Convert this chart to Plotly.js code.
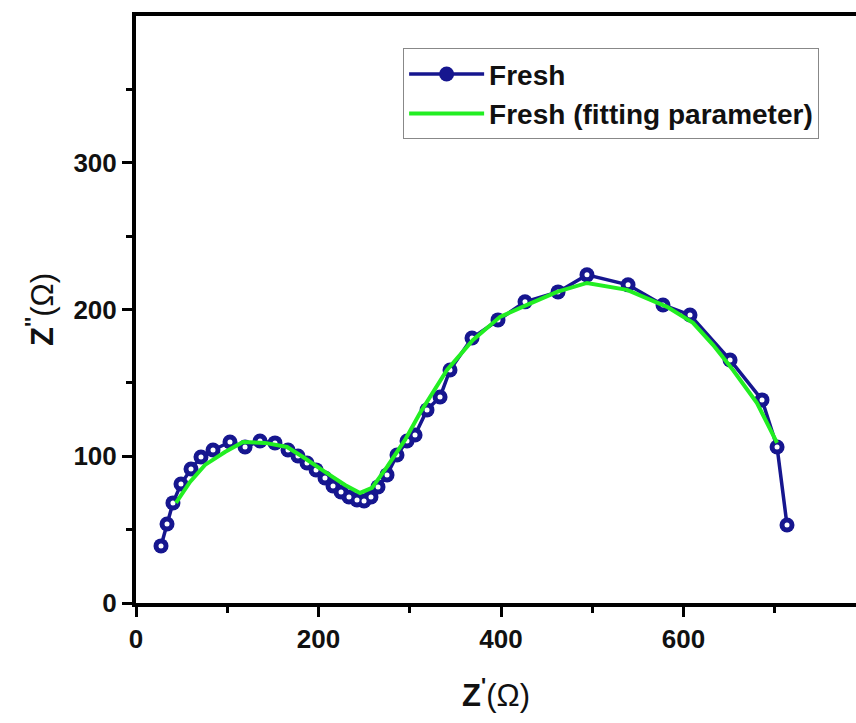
<!DOCTYPE html>
<html>
<head>
<meta charset="utf-8">
<script src="https://cdn.plot.ly/plotly-3.0.1.min.js"></script>
<style>html,body{margin:0;padding:0;background:#fff;}#chart{width:856px;height:723px;}</style>
</head>
<body>
<div id="chart"></div>
<script>
// Measured data: Fresh (Z' in ohm, Z'' in ohm)
const freshX = [27.4, 34.0, 40.5, 49.3, 60.3, 71.2, 84.4, 103.0, 119.5, 135.9, 152.3, 166.6, 177.5, 187.4, 197.3, 207.1, 215.9, 224.7, 233.4, 242.2, 249.9, 257.5, 265.2, 275.1, 286.0, 297.0, 305.8, 318.9, 333.2, 344.1, 368.2, 396.7, 426.3, 462.5, 494.2, 539.2, 577.5, 607.1, 651.0, 686.0, 702.5, 713.4];
const freshY = [38.9, 53.8, 68.2, 81.1, 91.3, 99.5, 104.3, 109.7, 106.3, 110.4, 109.1, 104.3, 100.2, 95.4, 90.7, 85.2, 79.8, 75.7, 72.3, 70.2, 69.5, 72.3, 79.1, 87.3, 100.9, 110.4, 114.5, 131.6, 140.4, 158.8, 180.6, 192.9, 205.2, 212.0, 223.6, 216.8, 203.1, 196.3, 165.6, 138.4, 106.3, 53.2];

// Fitting curve
const fitX = [43.8, 59.2, 75.6, 97.5, 117.3, 141.4, 165.5, 183.0, 207.1, 229.0, 245.5, 258.6, 275.1, 294.8, 311.2, 340.8, 369.3, 398.9, 428.5, 461.4, 494.2, 538.1, 581.9, 610.4, 632.3, 654.2, 680.5, 702.5];
const fitY = [68.2, 82.5, 94.1, 102.9, 109.7, 109.1, 106.3, 99.5, 89.3, 80.4, 75.0, 78.4, 92.7, 111.1, 129.5, 158.8, 179.3, 195.0, 203.1, 212.0, 218.1, 213.4, 201.8, 190.9, 175.9, 158.8, 136.3, 109.1];

const xTicks = [0, 200, 400, 600];
const yTicks = [0, 100, 200, 300];
const seriesNames = ['Fresh', 'Fresh (fitting parameter)'];

const navy = '#16168f';
const green = '#22ee22';
const FONT = '"Liberation Sans", Arial, sans-serif';

const traces = [
  {
    x: freshX, y: freshY, name: seriesNames[0], type: 'scatter', mode: 'lines+markers',
    line: {color: navy, width: 3.5},
    marker: {color: navy, size: 15, symbol: 'circle'},
    legendgroup: 'a'
  },
  {
    x: freshX, y: freshY, type: 'scatter', mode: 'markers', showlegend: false, hoverinfo: 'skip',
    marker: {color: '#ffffff', size: 5},
    legendgroup: 'a'
  },
  {
    x: fitX, y: fitY, name: seriesNames[1], type: 'scatter', mode: 'lines',
    line: {color: green, width: 4},
    legendgroup: 'b'
  }
];

const layout = {
  width: 856, height: 723,
  margin: {l: 136, r: 0, t: 16, b: 120},
  paper_bgcolor: '#ffffff', plot_bgcolor: '#ffffff',
  font: {family: FONT, color: '#000'},
  showlegend: true,
  legend: {
    x: 0.371, y: 0.945, xanchor: 'left', yanchor: 'top',
    bgcolor: '#ffffff', bordercolor: '#888888', borderwidth: 1,
    font: {family: FONT, size: 28, color: '#111', weight: 'bold'},
    traceorder: 'grouped', tracegroupgap: 0, itemwidth: 75
  },
  xaxis: {
    range: [0, 789], tickvals: xTicks, ticktext: xTicks.map(String),
    showgrid: false, zeroline: false,
    showline: true, linecolor: '#000', linewidth: 4, mirror: true,
    ticks: 'outside', ticklen: 10, tickwidth: 3, tickcolor: '#000',
    minor: {tickvals: [100, 300, 500, 700], ticks: 'outside', ticklen: 6, tickwidth: 3, tickcolor: '#000'},
    tickfont: {family: FONT, size: 26, weight: 'bold', color: '#111'},
    title: {text: "<b>Z</b><sup><b>'</b></sup>(Ω)", font: {family: FONT, size: 31, color: '#111'}, standoff: 32}
  },
  yaxis: {
    range: [0, 400], tickvals: yTicks, ticktext: yTicks.map(String),
    showgrid: false, zeroline: false,
    showline: true, linecolor: '#000', linewidth: 4, mirror: false,
    ticks: 'outside', ticklen: 10, tickwidth: 3, tickcolor: '#000',
    minor: {tickvals: [50, 150, 250, 350], ticks: 'outside', ticklen: 6, tickwidth: 3, tickcolor: '#000'},
    tickfont: {family: FONT, size: 26, weight: 'bold', color: '#111'},
    title: {text: "<b>Z</b><sup><b>''</b></sup>(Ω)", font: {family: FONT, size: 31, color: '#111'}, standoff: 12}
  }
};

Plotly.newPlot('chart', traces, layout, {displayModeBar: false, staticPlot: true});
</script>
</body>
</html>
